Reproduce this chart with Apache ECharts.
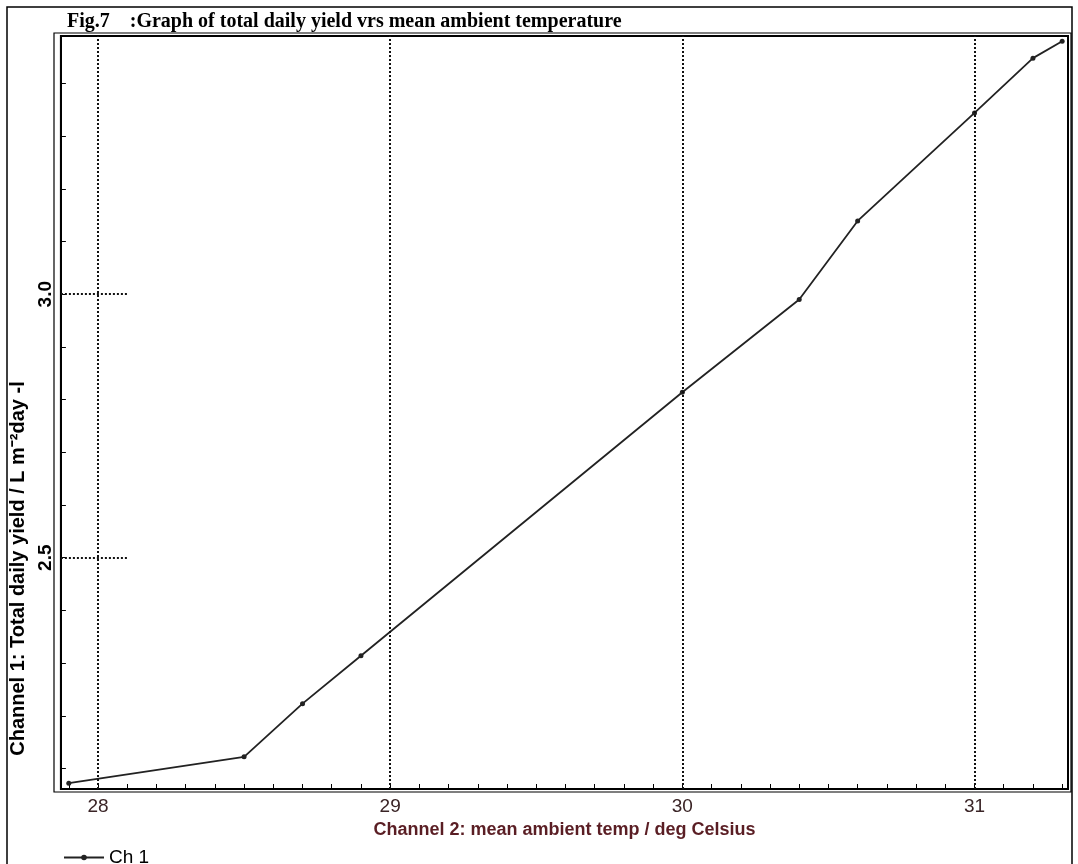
<!DOCTYPE html>
<html>
<head>
<meta charset="utf-8">
<script src="https://cdn.jsdelivr.net/npm/echarts@6/dist/echarts.min.js"></script>
<style>html,body{margin:0;padding:0;background:#fff;}#c{width:1078px;height:864px;}</style>
</head>
<body>
<div id="c"></div>
<script>
// ---- data ----
var temps  = [27.9, 28.5, 28.7, 28.9, 30.0, 30.4, 30.6, 31.0, 31.2, 31.3];
var yields = [2.072, 2.122, 2.223, 2.314, 2.814, 2.99, 3.139, 3.344, 3.448, 3.48];
var seriesName = 'Ch 1';
// ---- axis ticks ----
var xTickLabels = [28, 29, 30, 31];
var yTickLabels = [2.5, 3.0];
var xMinorTicks = [27.9, 28.0, 28.1, 28.2, 28.3, 28.4, 28.5, 28.6, 28.7, 28.8, 28.9,
                   29.0, 29.1, 29.2, 29.3, 29.4, 29.5, 29.6, 29.7, 29.8, 29.9,
                   30.0, 30.1, 30.2, 30.3, 30.4, 30.5, 30.6, 30.7, 30.8, 30.9,
                   31.0, 31.1, 31.2, 31.3];
var yMinorTicks = [2.1, 2.2, 2.3, 2.4, 2.5, 2.6, 2.7, 2.8, 2.9, 3.0, 3.1, 3.2, 3.3, 3.4];
var xMin = 27.873, xMax = 31.32, yMin = 2.061, yMax = 3.49;
var yDashEnd = 28.1;

var chart = echarts.init(document.getElementById('c'), null, {renderer: 'canvas'});

var points = temps.map(function (t, i) { return [t, yields[i]]; });
var gridMarks = xTickLabels.map(function (v) { return {xAxis: v}; });
yTickLabels.forEach(function (v) {
  gridMarks.push([{coord: [xMin, v]}, {coord: [yDashEnd, v]}]);
});

chart.setOption({
  animation: false,
  backgroundColor: '#fff',
  title: {
    text: 'Fig.7    :Graph of total daily yield vrs mean ambient temperature',
    left: 62, top: 7,
    textStyle: {fontFamily: 'Liberation Serif', fontSize: 20, fontWeight: 'bold', color: '#000'}
  },
  legend: {
    data: [seriesName],
    left: 58, top: 843,
    itemWidth: 40, itemHeight: 7,
    textStyle: {fontFamily: 'Liberation Sans', fontSize: 19, color: '#000'},
    itemGap: 4
  },
  graphic: [
    {type: 'rect', shape: {x: 7, y: 7, width: 1065, height: 870}, style: {fill: 'none', stroke: '#000', lineWidth: 1.5}, silent: true},
    {type: 'rect', shape: {x: 54, y: 33, width: 1017, height: 759}, style: {fill: 'none', stroke: '#000', lineWidth: 1.2}, silent: true}
  ],
  grid: {left: 58, right: 10, top: 36, bottom: 75, show: true, borderColor: '#000', borderWidth: 2, backgroundColor: 'transparent'},
  xAxis: {
    type: 'value', min: xMin, max: xMax,
    name: 'Channel 2: mean ambient temp / deg Celsius',
    nameLocation: 'middle', nameGap: 30,
    nameTextStyle: {fontFamily: 'Liberation Sans', fontSize: 18, fontWeight: 'bold', color: '#5a1e24'},
    axisLine: {show: true, lineStyle: {color: '#000', width: 2}},
    axisTick: {show: true, inside: true, length: 5, customValues: xMinorTicks, lineStyle: {color: '#000', width: 1}},
    axisLabel: {show: true, customValues: xTickLabels, margin: 8, fontFamily: 'Liberation Sans', fontSize: 19, color: '#3a2426',
      formatter: function (v) { return String(Math.round(v)); }},
    splitLine: {show: false}
  },
  yAxis: {
    type: 'value', min: yMin, max: yMax,
    name: 'Channel 1: Total daily yield / L m\u207B\u00B2day -l',
    nameLocation: 'middle', nameGap: 25,
    nameTextStyle: {fontFamily: 'Liberation Sans', fontSize: 20, fontWeight: 'bold', color: '#000', padding: [0, 312, 0, 0]},
    axisLine: {show: true, lineStyle: {color: '#000', width: 2}},
    axisTick: {show: true, inside: true, length: 5, customValues: yMinorTicks, lineStyle: {color: '#000', width: 1}},
    axisLabel: {show: true, customValues: yTickLabels, rotate: 90, margin: 6, fontFamily: 'Liberation Sans', fontSize: 19, fontWeight: 'bold', color: '#000',
      formatter: function (v) { return v.toFixed(1); }},
    splitLine: {show: false}
  },
  series: [{
    name: seriesName,
    type: 'line',
    data: points,
    symbol: 'circle', symbolSize: 5,
    lineStyle: {color: '#222', width: 1.8},
    itemStyle: {color: '#222'},
    markLine: {
      silent: true, symbol: 'none', label: {show: false},
      lineStyle: {color: '#111', type: 'dotted', width: 2},
      data: gridMarks
    }
  }]
});
</script>
</body>
</html>
